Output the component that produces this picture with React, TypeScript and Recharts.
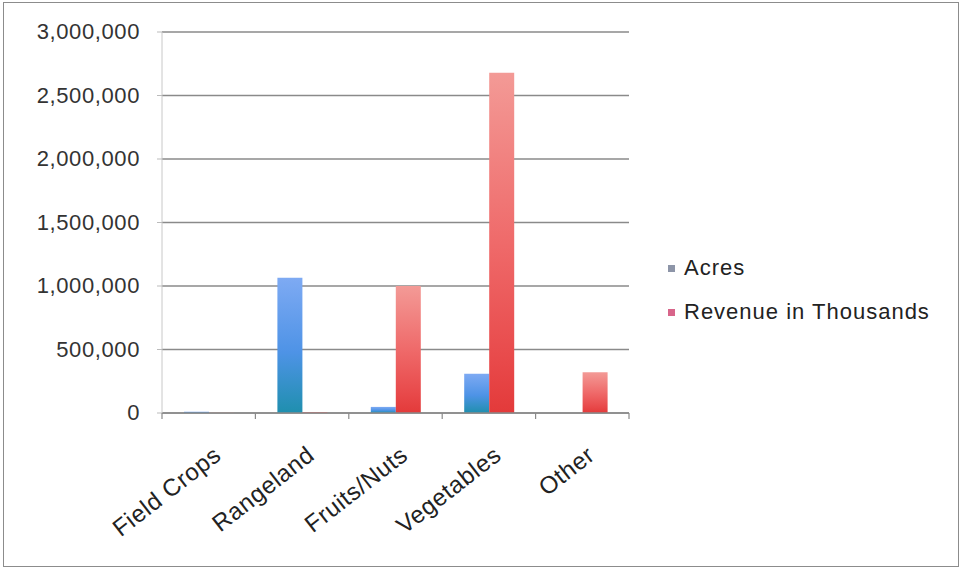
import React from "react";
import { BarChart, Bar, XAxis, YAxis, CartesianGrid, Legend } from "recharts";

const categories = ["Field Crops", "Rangeland", "Fruits/Nuts", "Vegetables", "Other"];
const acres = [10000, 1065000, 48000, 310000, 0];
const revenue = [3000, 8000, 1000000, 2680000, 320000];
const yTicks = [0, 500000, 1000000, 1500000, 2000000, 2500000, 3000000];

const data = categories.map((name, i) => ({ name, acres: acres[i], revenue: revenue[i] }));

const W = 961;
const H = 571;
const PLOT_LEFT = 162;
const PLOT_RIGHT = 629;
const PLOT_TOP = 32;
const PLOT_BOTTOM = 413;
const X_AXIS_H = 60;
const BAND = (PLOT_RIGHT - PLOT_LEFT) / categories.length;
const FONT = "'Liberation Sans', Arial, Helvetica, sans-serif";

const fmt = (v: number) => v.toLocaleString("en-US");

const YTick = ({ x, y, payload }: any) => (
  <text x={x} y={y} dy={7} textAnchor="end" fontFamily={FONT} fontSize={22} letterSpacing={0.6} fill="#333">
    {fmt(payload.value)}
  </text>
);

// slanted category labels, plus the tick marks that sit between categories
const XTick = ({ x, y, payload, index }: any) => {
  const ax = x + 14;
  const ay = y + 45;
  const left = x - BAND / 2;
  return (
    <g>
      <line x1={left} x2={left} y1={y} y2={y + 6} stroke="#8a8a8a" strokeWidth={1.2} />
      {index === categories.length - 1 && (
        <line x1={x + BAND / 2} x2={x + BAND / 2} y1={y} y2={y + 6} stroke="#8a8a8a" strokeWidth={1.2} />
      )}
      <text
        x={ax}
        y={ay}
        textAnchor="end"
        transform={`rotate(-38 ${ax} ${ay})`}
        fontFamily={FONT}
        fontSize={24}
        letterSpacing={0.6}
        fill="#222"
      >
        {payload.value}
      </text>
    </g>
  );
};

const legendItems = [
  { label: "Acres", color: "#8d95a8" },
  { label: "Revenue in Thousands", color: "#d8658a" },
];

const LegendBox = () => (
  <div style={{ fontFamily: FONT, fontSize: 22, letterSpacing: 1, color: "#222" }}>
    {legendItems.map((it) => (
      <div key={it.label} style={{ display: "flex", alignItems: "center", height: 44 }}>
        <span style={{ width: 7, height: 7, background: it.color, marginRight: 9, display: "inline-block" }} />
        <span>{it.label}</span>
      </div>
    ))}
  </div>
);

export default function App() {
  return (
    <div style={{ position: "fixed", left: 0, top: 0, width: W, height: H, background: "#fff" }}>
      <div
        style={{
          position: "absolute",
          left: 3,
          top: 2,
          width: 954,
          height: 563,
          border: "1.5px solid #8c8c8c",
        }}
      />
      <div style={{ position: "absolute", left: 0, top: 0 }}>
        <BarChart
          width={W}
          height={H}
          data={data}
          barSize={25}
          barGap={0}
          margin={{ top: PLOT_TOP, right: W - PLOT_RIGHT, left: 0, bottom: H - PLOT_BOTTOM - X_AXIS_H }}
        >
          <defs>
            <linearGradient id="gAcres" x1="0" y1="0" x2="0" y2="1">
              <stop offset="0%" stopColor="#7eaaf3" />
              <stop offset="55%" stopColor="#4e93e6" />
              <stop offset="100%" stopColor="#1f8fae" />
            </linearGradient>
            <linearGradient id="gRevenue" x1="0" y1="0" x2="0" y2="1">
              <stop offset="0%" stopColor="#f39a96" />
              <stop offset="50%" stopColor="#ef6a6a" />
              <stop offset="85%" stopColor="#e8494a" />
              <stop offset="100%" stopColor="#e33a3a" />
            </linearGradient>
          </defs>
          <CartesianGrid vertical={false} stroke="#8a8a8a" strokeWidth={1.3} />
          <XAxis
            dataKey="name"
            height={X_AXIS_H}
            tickLine={false}
            tickSize={0}
            tickMargin={0}
            axisLine={{ stroke: "#8a8a8a", strokeWidth: 1.3 }}
            tick={<XTick />}
            interval={0}
          />
          <YAxis
            width={PLOT_LEFT}
            domain={[0, 3000000]}
            ticks={yTicks}
            tickSize={5}
            tickMargin={17}
            tickLine={{ stroke: "#bbb" }}
            axisLine={{ stroke: "#c8c8c8" }}
            tick={<YTick />}
          />
          <Legend
            layout="horizontal"
            verticalAlign="middle"
            content={<LegendBox />}
            wrapperStyle={{ position: "absolute", left: 668, top: 246, width: 290 }}
          />
          <Bar dataKey="acres" name="Acres" fill="url(#gAcres)" isAnimationActive={false} />
          <Bar dataKey="revenue" name="Revenue in Thousands" fill="url(#gRevenue)" isAnimationActive={false} />
        </BarChart>
      </div>
    </div>
  );
}
